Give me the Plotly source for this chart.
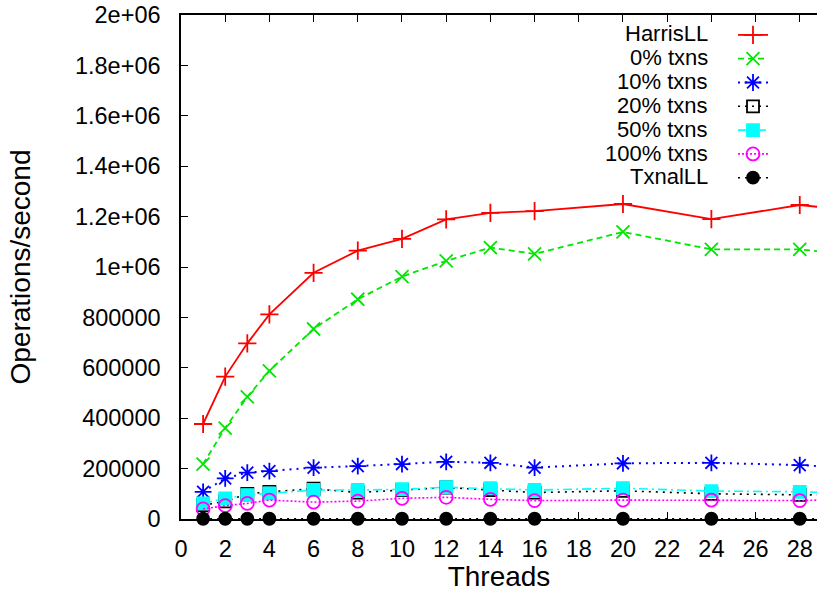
import plotly.graph_objects as go

threads = [1, 2, 3, 4, 6, 8, 10, 12, 14, 16, 20, 24, 28, 32]

harris = [377000, 565000, 697000, 812000, 977000, 1065000, 1112000, 1189000,
          1215000, 1222000, 1250000, 1190000, 1246000, 1210000]
txn0 = [218000, 361000, 485000, 588000, 754000, 872000, 962000, 1024000,
        1077000, 1052000, 1139000, 1070000, 1070000, 1034000]
txn10 = [108000, 161000, 184000, 190000, 204000, 210000, 218000, 227000,
         223000, 204000, 221000, 223000, 214000, 194000]
txn20 = [55000, 70000, 100000, 108000, 120000, 105000, 115000, 125000,
         115000, 105000, 112000, 100000, 96000, 95000]
txn50 = [62000, 82000, 95000, 102000, 115000, 115000, 118000, 126000,
         122000, 115000, 122000, 111000, 108000, 98000]
txn100 = [40000, 53000, 62000, 75000, 67000, 71000, 82000, 86000,
          78000, 73000, 75000, 75000, 73000, 83000]
txnal = [1000, 1000, 1000, 1000, 1000, 1000, 1000, 1000,
         1000, 1000, 1000, 1000, 1000, 1000]

series_names = ["HarrisLL", "0% txns", "10% txns", "20% txns", "50% txns",
                "100% txns", "TxnalLL"]
series_values = [harris, txn0, txn10, txn20, txn50, txn100, txnal]

y_tickvals = [0, 200000, 400000, 600000, 800000, 1000000, 1200000, 1400000,
              1600000, 1800000, 2000000]
y_ticktext = ["0", "200000", "400000", "600000", "800000", "1e+06", "1.2e+06",
              "1.4e+06", "1.6e+06", "1.8e+06", "2e+06"]
x_tickvals = list(range(0, 30, 2))

styles = [
    dict(color="#ff0000", dash="solid", symbol="cross-thin-open", size=13, lw=1.8),
    dict(color="#00e600", dash="6px,4px", symbol="x-thin-open", size=13, lw=1.8),
    dict(color="#0000ff", dash="2px,5px", symbol="asterisk-open", size=14, lw=2),
    dict(color="#000000", dash="2px,5px", symbol="square-open", size=12, lw=1.6),
    dict(color="#00ffff", dash="9px,4px,2px,4px", symbol="square", size=12, lw=1.6),
    dict(color="#ff00ff", dash="2px,2px", symbol="circle-open", size=13, lw=1.6),
    dict(color="#000000", dash="2px,5px", symbol="circle", size=12, lw=1.6),
]

W, H = 817, 592
ML, MR, MT, MB = 181, 0, 15, 73
PW, PH = W - ML - MR, H - MT - MB

fig = go.Figure()
for name, vals, st in zip(series_names, series_values, styles):
    fig.add_trace(go.Scatter(
        x=threads, y=vals, name=" ", legendgroup=name, mode="lines+markers",
        line=dict(color=st["color"], dash=st["dash"], width=st["lw"]),
        marker=dict(symbol=st["symbol"], size=st["size"], color=st["color"],
                    line=dict(color=st["color"], width=1.8)),
        cliponaxis=False, hovertext=name,
    ))

font = dict(family="Liberation Sans, Arial, sans-serif", size=23.5, color="black")

# legend labels (gnuplot style: text right-aligned, left of the sample)
row0_px, row_gap_px, text_right_px = 34, 23.8, 709
annotations = []
for i, name in enumerate(series_names):
    ypx = row0_px + i * row_gap_px
    annotations.append(dict(
        text=name, xref="paper", yref="paper",
        x=(text_right_px - ML) / PW, y=(H - MB - ypx) / PH,
        xanchor="right", yanchor="middle", showarrow=False,
        font=dict(size=22), borderpad=0,
    ))

fig.update_layout(
    width=W, height=H,
    margin=dict(l=ML, r=MR, t=MT, b=MB),
    paper_bgcolor="white", plot_bgcolor="white",
    font=font,
    showlegend=True,
    legend=dict(x=(733 - ML) / PW, y=(H - MB - 18) / PH,
                xanchor="left", yanchor="top",
                bgcolor="rgba(255,255,255,0)", font=dict(size=16),
                tracegroupgap=0),
    annotations=annotations,
    xaxis=dict(range=[0, 28.78], tickvals=x_tickvals, ticks="inside",
               ticklen=7, tickcolor="black", showline=True, linecolor="black",
               linewidth=1.5, mirror="ticks", showgrid=False, zeroline=False,
               ticklabelstandoff=8,
               title=dict(text="Threads", standoff=6)),
    yaxis=dict(range=[0, 2000000], tickvals=y_tickvals, ticktext=y_ticktext,
               ticks="inside", ticklen=7, tickcolor="black", showline=True,
               linecolor="black", linewidth=1.5, showgrid=False,
               zeroline=False, ticklabelstandoff=14,
               title=dict(text="Operations/second", standoff=36)),
    yaxis2=dict(range=[0, 2000000], overlaying="y", side="right",
                tickvals=y_tickvals, ticks="inside", ticklen=4,
                tickcolor="black", showticklabels=False, showline=False,
                showgrid=False, zeroline=False),
)

fig.write_html("out.html")
